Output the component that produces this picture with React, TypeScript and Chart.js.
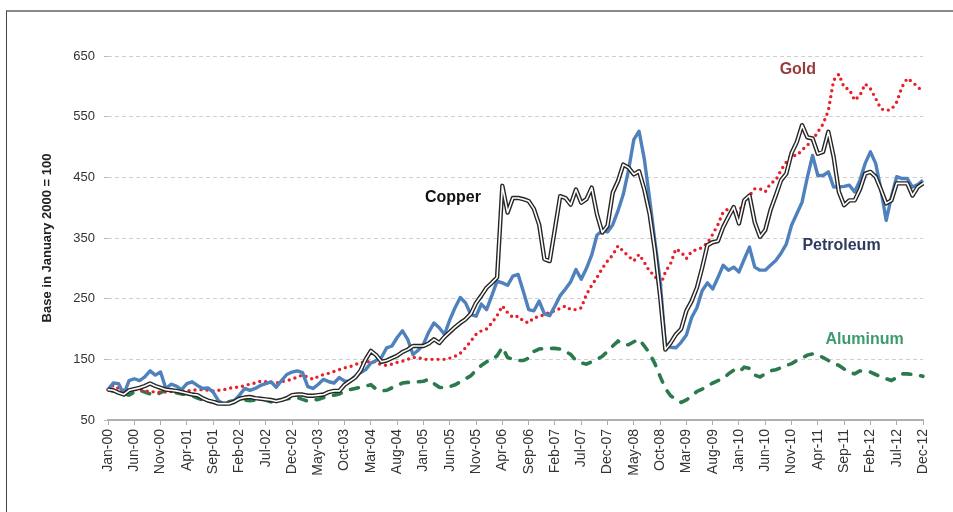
import React, { useEffect, useRef } from 'react';
import { Chart, registerables } from 'chart.js';

Chart.register(...registerables);

const MONTHS = ['Jan', 'Feb', 'Mar', 'Apr', 'May', 'Jun', 'Jul', 'Aug', 'Sep', 'Oct', 'Nov', 'Dec'];
const YEARS = ['00', '01', '02', '03', '04', '05', '06', '07', '08', '09', '10', '11', '12'];
const categories: string[] = [];
for (const yr of YEARS) for (const m of MONTHS) categories.push(`${m}-${yr}`);

const copper = [
  100, 99, 95, 92, 99, 101, 103, 106, 110, 106, 103, 100,
  99, 98, 96, 94, 92, 91, 86, 82, 80, 77, 77, 77,
  80, 85, 87, 88, 86, 85, 84, 83, 81, 83, 86, 91,
  92, 92, 90, 90, 91, 92, 96, 98, 98, 108, 114, 120,
  131, 150, 164, 157, 146, 148, 152, 156, 162, 166, 172, 172,
  172, 176, 183, 177, 187, 195, 203, 210, 216, 225, 243, 255,
  268, 276, 285, 436, 392, 416, 416, 414, 411, 398, 372, 315,
  312, 365, 419, 416, 405, 430, 408, 414, 433, 389, 359, 370,
  425, 444, 471, 466, 455, 460, 430, 390, 330, 255, 166, 177,
  191, 200, 230, 246, 268, 301, 338, 343, 345, 368, 385, 401,
  374, 412, 420, 376, 352, 363, 396, 420, 445, 456, 490, 508,
  536, 516, 514, 489, 492, 525, 484, 426, 404, 412, 412, 430,
  456, 459, 451, 430, 407, 412, 440, 440, 440, 420, 434, 440,
];

const petroleum = [
  100, 111, 110, 92, 115, 118, 115, 121, 131, 124, 129, 102,
  109, 106, 100, 110, 113, 107, 102, 103, 96, 82, 76, 78,
  82, 91, 102, 99, 102, 107, 110, 113, 104, 115, 125, 129,
  131, 128, 105, 102, 109, 117, 113, 111, 120, 114, 114, 122,
  128, 133, 144, 148, 153, 169, 172, 186, 197, 183, 158, 165,
  175, 195, 210, 202, 191, 215, 235, 252, 243, 224, 221, 241,
  232, 255, 279, 276, 272, 287, 290, 262, 232, 230, 246, 225,
  222, 238, 255, 266, 278, 298, 282, 300, 322, 355, 362, 360,
  372, 395, 422, 462, 512, 526, 480, 415, 345, 280, 175, 170,
  169, 178, 190, 219, 235, 263, 276, 266, 285, 305, 297, 302,
  294, 315, 335, 302, 297, 297, 305, 313, 325, 340, 371, 390,
  409, 450, 486, 453, 453, 459, 434, 434, 435, 437, 426, 445,
  473, 492, 473, 430, 379, 418, 451, 448, 448, 434, 438, 445,
];

const gold = [
  100, 107, 102, 99, 99, 100, 100, 98, 97, 96, 96, 96,
  97, 98, 98, 98, 99, 100, 100, 99, 98, 99, 100, 102,
  104, 104, 107, 109, 111, 114, 113, 112, 111, 113, 115, 117,
  121, 124, 121, 117, 122, 125, 127, 130, 133, 136, 138, 141,
  145, 145, 147, 145, 141, 140, 142, 145, 147, 150, 153, 153,
  150, 150, 150, 150, 150, 152, 155, 160, 169, 180, 191, 197,
  200, 210, 222, 238, 227, 219, 221, 213, 210, 219, 220, 224,
  227, 230, 234, 238, 232, 232, 235, 257, 272, 285, 300, 312,
  322, 337, 328, 320, 312, 323, 310, 295, 288, 270, 294, 308,
  332, 327, 316, 328, 331, 334, 342, 356, 372, 393, 398, 390,
  395, 407, 420, 431, 431, 426, 440, 445, 462, 475, 486, 486,
  495, 503, 511, 525, 538, 560, 610, 620, 598, 595, 577, 585,
  604, 596, 580, 563, 560, 562, 574, 599, 613, 607, 599, 591,
];

const aluminum = [
  100, 98, 96, 93, 91, 96, 99, 96, 93, 91, 95, 99,
  97, 95, 93, 92, 90, 86, 83, 81, 80, 79, 78, 80,
  82, 85, 83, 82, 83, 85, 83, 80, 81, 83, 85, 86,
  87, 84, 81, 83, 84, 87, 90, 91, 93, 97, 100, 102,
  104, 106, 108, 101, 98, 99, 103, 107, 111, 112, 112, 113,
  114, 117, 110, 104, 103, 105, 108, 113, 118, 123, 132, 140,
  146, 149, 156, 170, 153, 150, 148, 148, 152, 163, 167, 168,
  168, 168, 167, 163, 158, 148, 144, 142, 146, 150, 155, 163,
  172, 180, 174, 174, 179, 183, 172, 160, 143, 122, 102, 90,
  84, 79, 83, 90, 97, 101, 106, 111, 115, 118, 126, 132,
  129, 137, 135, 124, 121, 126, 131, 133, 136, 140, 143, 148,
  152, 157, 159, 157, 153, 148, 143, 140, 134, 129, 126, 131,
  130, 129, 125, 121, 118, 115, 120, 126, 126, 125, 124, 122,
];

const Y_MIN = 50;
const Y_MAX = 650;
const Y_STEP = 100;
const LABEL_EVERY = 5;

const annotations = [
  { text: 'Copper', x: 65.6, y: 416, color: '#111111' },
  { text: 'Gold', x: 131.2, y: 628, color: '#9a3b3b' },
  { text: 'Petroleum', x: 139.5, y: 337, color: '#2c3b5e' },
  { text: 'Aluminum', x: 143.9, y: 182, color: '#3d9a6c' },
];

const FONT = '"Liberation Sans", Arial, sans-serif';

export default function App() {
  const ref = useRef<HTMLCanvasElement>(null);

  useEffect(() => {
    const canvas = ref.current;
    if (!canvas) return;

    const annotPlugin = {
      id: 'annot',
      afterDatasetsDraw(chart: any) {
        const { ctx, scales } = chart;
        ctx.save();
        ctx.font = `bold 16px ${FONT}`;
        ctx.textAlign = 'center';
        ctx.textBaseline = 'middle';
        for (const a of annotations) {
          ctx.fillStyle = a.color;
          ctx.fillText(a.text, scales.x.getPixelForValue(a.x), scales.y.getPixelForValue(a.y));
        }
        ctx.restore();
      },
    };

    const chart = new Chart(canvas, {
      type: 'line',
      data: {
        labels: categories,
        datasets: [
          {
            label: 'Copper inner',
            data: copper,
            borderColor: '#ffffff',
            borderWidth: 1.6,
            pointRadius: 0,
            tension: 0,
            borderJoinStyle: 'round',
            order: 0,
          },
          {
            label: 'Copper',
            data: copper,
            borderColor: '#262626',
            borderWidth: 4.4,
            pointRadius: 0,
            tension: 0,
            borderJoinStyle: 'round',
            order: 1,
          },
          {
            label: 'Petroleum',
            data: petroleum,
            borderColor: '#4f81bd',
            borderWidth: 3.4,
            pointRadius: 0,
            tension: 0,
            borderJoinStyle: 'round',
            order: 2,
          },
          {
            label: 'Gold',
            data: gold,
            borderColor: '#e8202a',
            borderWidth: 3.4,
            borderDash: [0, 6],
            borderCapStyle: 'round',
            pointRadius: 0,
            tension: 0,
            order: 3,
          },
          {
            label: 'Aluminum',
            data: aluminum,
            borderColor: '#2b7a4d',
            borderWidth: 3.6,
            borderDash: [8, 10],
            borderCapStyle: 'round',
            pointRadius: 0,
            tension: 0,
            order: 4,
          },
        ],
      },
      options: {
        animation: false,
        responsive: false,
        maintainAspectRatio: false,
        layout: { padding: { top: 56, right: 30, left: 0, bottom: 0 } },
        plugins: {
          legend: { display: false },
          tooltip: { enabled: false },
          title: { display: false },
        },
        scales: {
          x: {
            type: 'category',
            offset: false,
            afterFit: (scale: any) => {
              scale.height = 92;
            },
            grid: {
              display: true,
              drawOnChartArea: false,
              drawTicks: true,
              tickLength: 5,
              color: '#aaaaaa',
              lineWidth: 1,
            },
            border: { display: true, color: '#b0b0b0', width: 2 },
            ticks: {
              autoSkip: false,
              maxRotation: 90,
              minRotation: 90,
              padding: 4,
              color: '#333333',
              font: { family: FONT, size: 14 },
              callback: (_v: any, i: number) => (i % LABEL_EVERY === 0 ? categories[i] : null),
            },
          },
          y: {
            min: Y_MIN,
            max: Y_MAX,
            afterFit: (scale: any) => {
              scale.width = 108;
            },
            ticks: {
              stepSize: Y_STEP,
              padding: 9,
              color: '#333333',
              font: { family: FONT, size: 13 },
            },
            grid: {
              drawTicks: true,
              tickLength: 4,
              tickColor: '#bbbbbb',
              color: (c: any) => (c.tick && c.tick.value === Y_MIN ? 'rgba(0,0,0,0)' : '#cfcfcf'),
              lineWidth: 1,
            },
            border: { display: false, dash: [4, 3] },
            title: {
              display: true,
              text: 'Base in January 2000 = 100',
              color: '#222222',
              font: { family: FONT, size: 13, weight: 'bold' },
              padding: { top: 40, bottom: 0 },
            },
          },
        },
      },
      plugins: [annotPlugin],
    } as any);

    return () => {
      chart.destroy();
    };
  }, []);

  return (
    <div
      style={{
        position: 'absolute',
        left: 0,
        top: 0,
        width: 953,
        height: 512,
        background: '#ffffff',
        overflow: 'hidden',
      }}
    >
      <div
        style={{
          position: 'absolute',
          left: 6,
          top: 10,
          right: 0,
          bottom: 0,
          borderTop: '2px solid #8a8a8a',
          borderLeft: '1px solid #444444',
        }}
      />
      <canvas
        ref={ref}
        width={953}
        height={512}
        style={{ position: 'absolute', left: 0, top: 0, width: 953, height: 512 }}
      />
    </div>
  );
}
